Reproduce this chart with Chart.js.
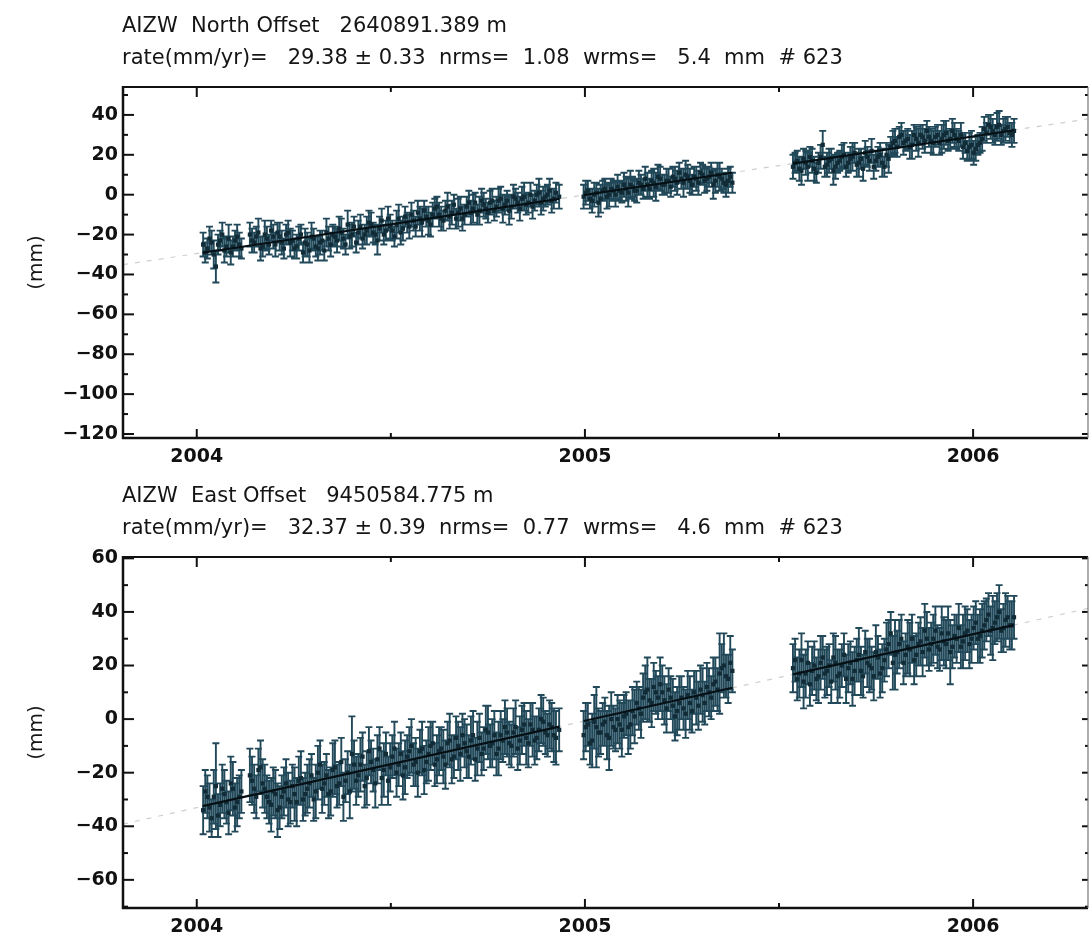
<!DOCTYPE html>
<html><head><meta charset="utf-8">
<script src="https://cdn.jsdelivr.net/npm/chart.js@4.4.1/dist/chart.umd.min.js"></script>
<style>
html,body{margin:0;padding:0;background:#fff;overflow:hidden;width:1092px;height:936px;}
.panel{position:absolute;left:0;width:1092px;height:470px;}
canvas{position:absolute;left:0;top:0;}
.t{position:absolute;left:122px;font-family:"DejaVu Sans";font-size:21px;line-height:21px;white-space:pre;color:#151515;}
</style></head><body>
<div class="panel" style="top:0px"><canvas id="c1" width="1092" height="470"></canvas>
<div class="t" style="top:15px">AIZW  North Offset   2640891.389 m</div>
<div class="t" style="top:47px">rate(mm/yr)=   29.38 ± 0.33  nrms=  1.08  wrms=   5.4  mm  # 623</div></div>
<div class="panel" style="top:470px"><canvas id="c2" width="1092" height="470"></canvas>
<div class="t" style="top:15px">AIZW  East Offset   9450584.775 m</div>
<div class="t" style="top:47px">rate(mm/yr)=   32.37 ± 0.39  nrms=  0.77  wrms=   4.6  mm  # 623</div></div>
<script>
// epochs: days since 2004-01-01 (first pass)
const epochDays = [
  6,10,14,18,22,26,30,34,38,42,
  50,54,58,62,66,70,74,78,82,86,
  90,94,98,102,106,110,114,118,122,126,
  130,134,138,142,146,150,154,158,162,166,
  170,174,178,182,186,190,194,198,202,206,
  210,214,218,222,226,230,234,238,242,246,
  250,254,258,262,266,270,274,278,282,286,
  290,294,298,302,306,310,314,318,322,326,
  330,334,338,341,
  364,368,372,376,380,384,388,392,396,400,
  404,408,412,416,420,424,428,432,436,440,
  444,448,452,456,460,464,468,472,476,480,
  484,488,492,496,500,504,
  561,565,569,573,577,581,585,589,593,597,
  601,605,609,613,617,621,625,629,633,637,
  641,645,649,653,657,661,665,669,673,677,
  681,685,689,693,697,701,705,709,713,717,
  721,725,729,733,737,741,745,749,753,757,
  761,765,769
];
const northMM = [
  -25,-27,-24,-36,-23,-28,-22,-26,-21,-27,
  -20,-24,-19,-26,-22,-18,-25,-21,-27,-19,
  -23,-26,-20,-24,-28,-22,-27,-23,-19,-25,
  -21,-17,-22,-15,-20,-24,-16,-20,-14,-19,
  -23,-13,-18,-16,-21,-12,-17,-14,-10,-16,
  -12,-8,-13,-10,-6,-12,-8,-11,-5,-9,
  -12,-6,-9,-4,-8,-5,-9,-3,-6,-2,
  -5,-8,-1,-4,-2,-5,0,-3,1,-2,
  0,-3,1,-1,
  -1,2,-3,1,-2,3,0,2,4,1,
  3,5,2,6,3,5,7,4,8,5,
  7,9,6,8,10,7,9,6,10,8,
  11,7,9,6,7,6,
  14,17,12,16,19,13,16,25,15,18,
  14,17,20,16,19,15,18,21,17,14,
  19,16,20,24,27,29,26,28,25,28,
  30,27,29,26,30,28,31,28,30,27,
  24,22,25,23,26,33,35,32,34,30,
  33,31,32
];
const northErr = [
  6,5,6,8,5,6,7,5,6,5,
  6,5,7,5,6,5,6,7,5,6,
  5,6,5,7,6,5,6,5,7,6,
  5,6,5,7,6,5,6,5,6,5,
  7,6,5,6,5,7,6,5,6,5,
  6,5,7,6,5,6,5,6,5,7,
  6,5,6,5,7,6,5,6,5,6,
  5,7,6,5,6,5,6,5,7,6,
  5,6,5,6,
  6,5,6,5,7,5,6,5,6,5,
  6,7,5,6,5,6,5,7,6,5,
  6,5,6,5,7,6,5,6,5,6,
  5,6,7,5,6,5,
  6,5,7,6,5,6,5,7,6,5,
  6,5,6,5,7,6,5,6,5,6,
  5,7,6,5,6,5,6,5,7,6,
  5,6,5,6,5,7,6,5,6,5,
  6,5,7,6,5,6,5,6,7,5,
  6,5,6
];
const eastMM = [
  -34,-29,-37,-25,-32,-28,-35,-26,-31,-27,
  -21,-26,-19,-24,-29,-32,-28,-33,-27,-30,
  -25,-31,-22,-28,-24,-30,-20,-26,-21,-27,
  -18,-24,-29,-20,-13,-23,-17,-25,-12,-19,
  -15,-22,-13,-18,-11,-17,-21,-14,-10,-16,
  -12,-19,-13,-9,-15,-11,-17,-8,-14,-10,
  -6,-12,-8,-15,-7,-11,-5,-9,-13,-6,
  -3,-9,-5,-11,-4,-7,-2,-8,-4,-1,
  -6,-3,-7,-4,
  -6,-2,-8,-3,-5,-1,-7,-3,0,-4,
  2,-2,1,4,8,11,6,10,13,7,
  11,5,3,8,2,6,10,5,9,12,
  8,14,17,20,15,18,
  19,15,22,17,13,20,16,23,18,14,
  21,17,24,19,15,22,18,25,20,16,
  23,19,26,32,24,28,21,27,30,24,
  29,33,26,30,27,32,28,25,31,34,
  29,33,30,36,31,35,39,34,38,33,
  37,35,38
];
const eastErr = [
  9,8,7,16,8,9,8,10,9,8,
  10,9,8,9,8,10,9,8,9,10,
  8,9,10,8,9,8,10,9,8,9,
  10,8,9,8,14,9,10,8,9,8,
  9,10,8,9,10,8,9,8,10,9,
  8,9,10,8,9,8,9,10,8,9,
  8,10,9,8,9,8,10,9,8,9,
  10,8,9,8,9,10,8,9,8,9,
  8,9,10,8,
  9,8,10,15,8,9,12,8,9,10,
  8,9,10,8,9,12,9,8,10,9,
  8,10,9,8,9,10,8,9,10,9,
  8,9,15,12,9,8,
  9,8,10,9,8,9,10,8,9,8,
  10,9,8,9,10,8,9,8,10,9,
  8,9,10,8,13,9,8,10,9,8,
  9,10,8,9,8,10,9,12,8,9,
  10,8,9,8,10,9,8,12,9,8,
  10,9,8
];
// epochs: days since 2004-01-01 (second pass, in between)
const midDays = [
  8,12,16,20,24,28,32,36,40,
  52,56,60,64,68,72,76,80,84,88,
  92,96,100,104,108,112,116,120,124,128,
  132,136,140,144,148,152,156,160,164,168,
  172,176,180,184,188,192,196,200,204,208,
  212,216,220,224,228,232,236,240,244,248,
  252,256,260,264,268,272,276,280,284,288,
  292,296,300,304,308,312,316,320,324,328,
  332,336,
  366,370,374,378,382,386,390,394,398,402,
  406,410,414,418,422,426,430,434,438,442,
  446,450,454,458,462,466,470,474,478,482,
  486,490,494,498,502,
  563,567,571,575,579,583,587,591,595,599,
  603,607,611,615,619,623,627,631,635,639,
  643,647,651,655,659,663,667,671,675,679,
  683,687,691,695,699,703,707,711,715,719,
  723,727,731,735,739,743,747,751,755,759,
  763,767
];
const northMidMM = [
  -29,-22,-30,-25,-20,-26,-29,-23,-25,
  -23,-21,-27,-20,-25,-21,-19,-24,-20,-24,
  -27,-22,-29,-25,-21,-26,-24,-28,-22,-20,
  -23,-19,-25,-21,-16,-19,-22,-18,-15,-20,
  -17,-20,-12,-18,-15,-19,-11,-16,-13,-9,
  -14,-11,-15,-7,-10,-13,-6,-9,-12,-7,
  -10,-4,-7,-10,-3,-7,-4,-8,-3,-7,
  -3,-6,-2,-7,-1,-4,-6,0,-4,-1,
  2,-2,
  1,-2,0,-4,2,-1,3,0,2,5,
  1,4,2,5,8,3,6,9,5,7,
  4,8,11,6,9,5,8,11,7,9,
  5,10,8,5,9,
  16,13,18,14,17,11,19,14,17,12,
  16,19,14,18,21,16,13,19,22,17,
  20,14,18,26,24,30,27,24,30,26,
  29,32,27,29,26,30,27,32,28,30,
  26,24,21,25,28,31,34,30,35,32,
  34,30
];
const northMidErr = [
  5,6,7,5,6,5,6,5,6,
  6,5,6,7,5,6,5,6,5,7,
  5,6,5,6,7,5,6,5,6,5,
  6,7,5,6,5,6,5,7,6,5,
  6,5,6,5,7,6,5,6,5,6,
  7,5,6,5,6,5,7,6,5,6,
  5,6,7,5,6,5,6,5,6,7,
  5,6,5,6,7,5,6,5,6,5,
  6,5,
  6,5,6,7,5,6,5,6,5,6,
  7,5,6,5,6,5,7,6,5,6,
  5,6,5,7,6,5,6,5,6,5,
  7,6,5,6,5,
  5,6,5,7,6,5,6,5,6,7,
  5,6,5,6,5,7,6,5,6,5,
  6,5,7,6,5,6,5,6,5,7,
  6,5,6,5,6,7,5,6,5,6,
  5,7,6,5,6,5,6,5,7,6,
  5,6
];
const eastMidMM = [
  -27,-33,-29,-36,-26,-31,-24,-33,-29,
  -23,-29,-18,-26,-31,-27,-34,-29,-24,-31,
  -28,-23,-30,-26,-21,-27,-17,-24,-28,-19,
  -25,-16,-23,-27,-17,-21,-14,-22,-16,-24,
  -11,-19,-23,-14,-20,-13,-18,-12,-17,-20,
  -11,-16,-10,-17,-12,-14,-9,-15,-7,-13,
  -9,-14,-6,-11,-13,-4,-10,-6,-11,-8,
  -5,-10,-3,-8,-2,-9,-4,-7,0,-5,
  -2,-6,
  -3,-9,-1,-5,-2,-6,0,-4,-2,1,
  -3,3,6,2,10,7,12,8,10,4,
  8,1,6,4,9,3,8,11,6,10,
  13,11,19,16,21,
  22,17,14,21,18,15,21,17,20,23,
  16,20,15,21,18,24,16,21,19,25,
  17,22,28,21,25,30,24,26,22,28,
  25,30,28,33,26,29,32,27,30,27,
  32,28,34,30,33,37,33,36,40,34,
  38,35
];
const eastMidErr = [
  8,9,10,8,9,8,10,9,8,
  9,8,10,9,8,9,10,8,9,8,
  10,9,8,9,8,10,9,8,9,10,
  8,9,8,10,9,8,9,10,8,9,
  8,10,9,8,9,8,10,9,8,9,
  10,8,9,8,9,10,8,9,8,10,
  9,8,9,10,8,9,8,9,10,8,
  9,8,10,9,8,9,10,8,9,8,
  9,10,
  9,8,10,9,8,9,10,8,9,8,
  10,9,8,9,10,8,9,8,10,9,
  8,9,10,8,9,8,10,9,8,9,
  10,8,9,8,10,
  8,9,10,8,9,8,10,9,8,9,
  10,8,9,8,9,10,8,9,8,10,
  9,8,9,10,8,9,8,10,9,8,
  9,10,8,9,8,9,10,8,9,8,
  10,9,8,9,10,8,9,8,10,9,
  8,9
];
// fitted rate lines (faint, full range) and model segments (dark, null = gap)
const trendYears = [2003.81, 2006.296];
const northTrendMM = [-35.1, 38.0];
const eastTrendMM = [-39.2, 41.3];
const modelYears = [2004.015, 2004.934, 2004.96, 2004.997, 2005.38, 2005.45, 2005.536, 2006.105];
const northModelMM = [-29.1, -2.1, null, -0.2, 11.0, null, 15.6, 32.3];
const eastModelMM = [-32.5, -2.8, null, -0.7, 11.7, null, 16.7, 35.1];
const yearLabels = ['2004', '2005', '2006'];

const FONT = 'DejaVu Sans';
Chart.defaults.font.family = FONT;

const toYear = d => 2004 + d / 365.25;

const errorBars = {
  id: 'errorBars',
  beforeDatasetDraw(chart, args) {
    const ds = chart.data.datasets[args.index];
    if (!ds.errors) return;
    const {ctx, chartArea: a, scales: {x, y}} = chart;
    ctx.save();
    ctx.beginPath(); ctx.rect(a.left, a.top, a.right - a.left, a.bottom - a.top); ctx.clip();
    ctx.strokeStyle = '#21495a';
    ctx.lineWidth = 1.9;
    ctx.beginPath();
    ds.data.forEach((p, i) => {
      const e = ds.errors[i];
      const px = x.getPixelForValue(p.x);
      const y1 = y.getPixelForValue(p.y + e), y2 = y.getPixelForValue(p.y - e);
      ctx.moveTo(px, y1); ctx.lineTo(px, y2);
      ctx.moveTo(px - 3.5, y1); ctx.lineTo(px + 3.5, y1);
      ctx.moveTo(px - 3.5, y2); ctx.lineTo(px + 3.5, y2);
    });
    ctx.stroke();
    ctx.restore();
  }
};

const frame = {
  id: 'frame',
  afterDraw(chart) {
    const {ctx, chartArea: a, scales: {x, y}} = chart;
    const seg = (x1, y1, x2, y2) => { ctx.beginPath(); ctx.moveTo(x1, y1); ctx.lineTo(x2, y2); ctx.stroke(); };
    ctx.save();
    ctx.strokeStyle = '#111';
    ctx.lineWidth = 2;
    x.ticks.forEach(t => {
      const px = x.getPixelForValue(t.value);
      const major = Math.abs(t.value - Math.round(t.value)) < 1e-6;
      seg(px, a.bottom, px, a.bottom - (major ? 9 : 5));
      seg(px, a.top, px, a.top + (major ? 10 : 5));
    });
    y.ticks.forEach(t => {
      const py = y.getPixelForValue(t.value);
      const major = t.value % 20 === 0;
      seg(a.left, py, a.left + (major ? 11 : 5), py);
      seg(a.right, py, a.right - (major ? 6 : 3), py);
    });
    ctx.lineWidth = 2.5;
    seg(a.left, a.top - 1, a.left, a.bottom + 1);
    seg(a.left - 1, a.bottom, a.right, a.bottom);
    ctx.lineWidth = 2;
    seg(a.left, a.top, a.right, a.top);
    ctx.lineWidth = 1.2;
    ctx.strokeStyle = '#777';
    seg(a.right, a.top, a.right, a.bottom);
    ctx.restore();
  }
};

function makeChart(id, values, errors, midValues, midErrors, yMin, yMax, trendMM, modelMM) {
  const pts = epochDays.map((d, i) => ({x: toYear(d), y: values[i]}))
    .concat(midDays.map((d, i) => ({x: toYear(d), y: midValues[i]})));
  const errs = errors.concat(midErrors);
  const trend = trendYears.map((t, i) => ({x: t, y: trendMM[i]}));
  const model = modelYears.map((t, i) => ({x: t, y: modelMM[i]}));
  const fmtY = v => (v < 0 ? '\u2212' + Math.abs(v) : String(v));
  return new Chart(document.getElementById(id), {
    type: 'scatter',
    data: {datasets: [
      {data: trend, showLine: true, borderColor: '#cfcfcf', borderWidth: 1.2, borderDash: [5, 7], pointRadius: 0, order: 3},
      {data: pts, errors: errs, backgroundColor: '#122c37', borderWidth: 0, pointRadius: 3, pointStyle: 'rect', order: 2},
      {data: model, showLine: true, spanGaps: false, borderColor: '#061015', borderWidth: 2.2, pointRadius: 0, order: 1}
    ]},
    options: {
      responsive: false, animation: false, events: [], devicePixelRatio: 1,
      layout: {padding: {left: 21, right: 2, top: 87, bottom: 0}},
      plugins: {legend: {display: false}, tooltip: {enabled: false}, title: {display: false}},
      scales: {
        x: {
          type: 'linear', min: 2003.81, max: 2006.296,
          grid: {display: false, drawTicks: false}, border: {display: false},
          ticks: {stepSize: 0.5, includeBounds: false, autoSkip: false, maxRotation: 0, padding: 8,
            color: '#111', font: {family: FONT, size: 19, weight: 'bold'},
            callback: v => { const s = String(Math.round(v)); return (Math.abs(v - Math.round(v)) < 1e-6 && yearLabels.includes(s)) ? s : ''; }},
          afterFit: s => { s.height = 32; }
        },
        y: {
          type: 'linear', min: yMin, max: yMax,
          grid: {display: false, drawTicks: false}, border: {display: false},
          ticks: {stepSize: 10, includeBounds: false, autoSkip: false, padding: 5,
            color: '#111', font: {family: FONT, size: 19, weight: 'bold'},
            callback: v => (v % 20 === 0 ? fmtY(v) : '')},
          title: {display: true, text: '(mm)', color: '#151515', font: {family: FONT, size: 20}, padding: {top: 4, bottom: 0}},
          afterFit: s => { s.width = 102; }
        }
      }
    },
    plugins: [errorBars, frame]
  });
}

makeChart('c1', northMM, northErr, northMidMM, northMidErr, -122, 54, northTrendMM, northModelMM);
makeChart('c2', eastMM, eastErr, eastMidMM, eastMidErr, -70.5, 60.5, eastTrendMM, eastModelMM);
</script>
</body></html>
